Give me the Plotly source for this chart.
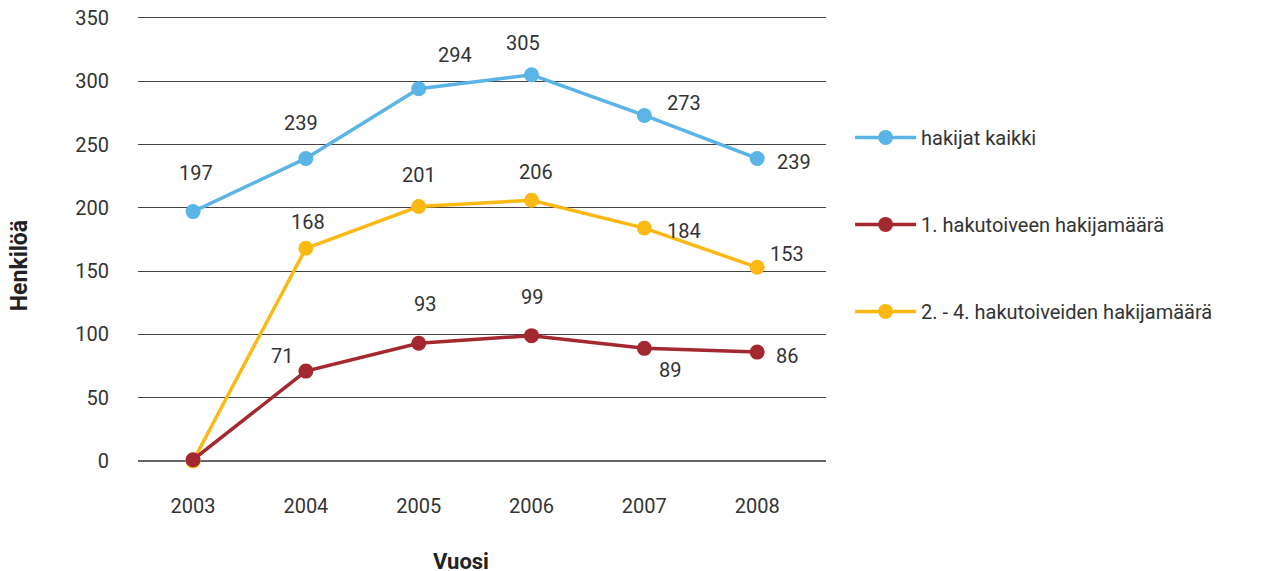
import plotly.graph_objects as go

years = ["2003", "2004", "2005", "2006", "2007", "2008"]
kaikki = [197, 239, 294, 305, 273, 239]
eka = [1, 71, 93, 99, 89, 86]
muut = [0, 168, 201, 206, 184, 153]
names = ["hakijat kaikki", "1. hakutoiveen hakijamäärä", "2. - 4. hakutoiveiden hakijamäärä"]
y_ticks = [0, 50, 100, 150, 200, 250, 300, 350]

colors = ["#5AB4E5", "#A4282F", "#FDB913"]
series = [kaikki, eka, muut]
# label offsets in pixels (dx, dy on screen; None = no label)
offsets = [
    [(3, -39), (-5, -35), (36, -34), (-9, -32), (40, -12), (37, 4)],
    [None, (-24, -15), (6, -39), (0, -39), (26, 22), (30, 4)],
    [None, (2, -26), (0, -32), (4, -28), (40, 3), (30, -13)],
]
draw_order = [0, 2, 1]  # red drawn on top of yellow

FONT = "Roboto"
TXT = "#333333"

fig = go.Figure()
for i in draw_order:
    fig.add_trace(go.Scatter(
        x=years, y=series[i], name=names[i], mode="lines+markers",
        line=dict(color=colors[i], width=3.5), marker=dict(color=colors[i], size=15),
        legendgroup=str(i), legendrank=i + 1, cliponaxis=False,
    ))

annotations = []
for vals, offs in zip(series, offsets):
    for idx, (v, o) in enumerate(zip(vals, offs)):
        if o is None:
            continue
        annotations.append(dict(
            x=idx, y=v, xref="x", yref="y", text=str(v), showarrow=False,
            xshift=o[0], yshift=-o[1], font=dict(family=FONT, size=20, color=TXT),
        ))

annotations.append(dict(text="<b>Henkilöä</b>", xref="paper", yref="paper",
                        x=-0.1730, y=0.44, xanchor="center", yanchor="middle",
                        textangle=-90, showarrow=False,
                        font=dict(family=FONT, size=23, color="#222")))
annotations.append(dict(text="<b>Vuosi</b>", xref="paper", yref="paper",
                        x=0.4695, y=-0.2265, xanchor="center", yanchor="middle",
                        showarrow=False, font=dict(family=FONT, size=22, color="#222")))

fig.update_layout(
    width=1265, height=571,
    margin=dict(l=130, r=447, t=8, b=118),
    paper_bgcolor="white", plot_bgcolor="white",
    font=dict(family=FONT, size=20, color=TXT),
    showlegend=True,
    legend=dict(x=1.035, y=0.771, xanchor="left", yanchor="top",
                traceorder="grouped", tracegroupgap=58,
                font=dict(family=FONT, size=20, color=TXT), itemwidth=61),
    annotations=annotations,
)
fig.update_xaxes(type="category", range=[-0.488, 5.61], showgrid=False, showline=False,
                 ticks="", automargin=False, ticklabelstandoff=31,
                 tickfont=dict(family=FONT, size=20, color=TXT))
fig.update_yaxes(range=[0, 351.5], tickvals=y_ticks, showgrid=True, gridcolor="#444444",
                 gridwidth=1, zeroline=True, zerolinecolor="#666666", zerolinewidth=1.5,
                 showline=False, ticks="", automargin=False, ticklabelstandoff=28,
                 ticklabeloverflow="allow",
                 tickfont=dict(family=FONT, size=20, color=TXT))

fig.write_html("out.html")
